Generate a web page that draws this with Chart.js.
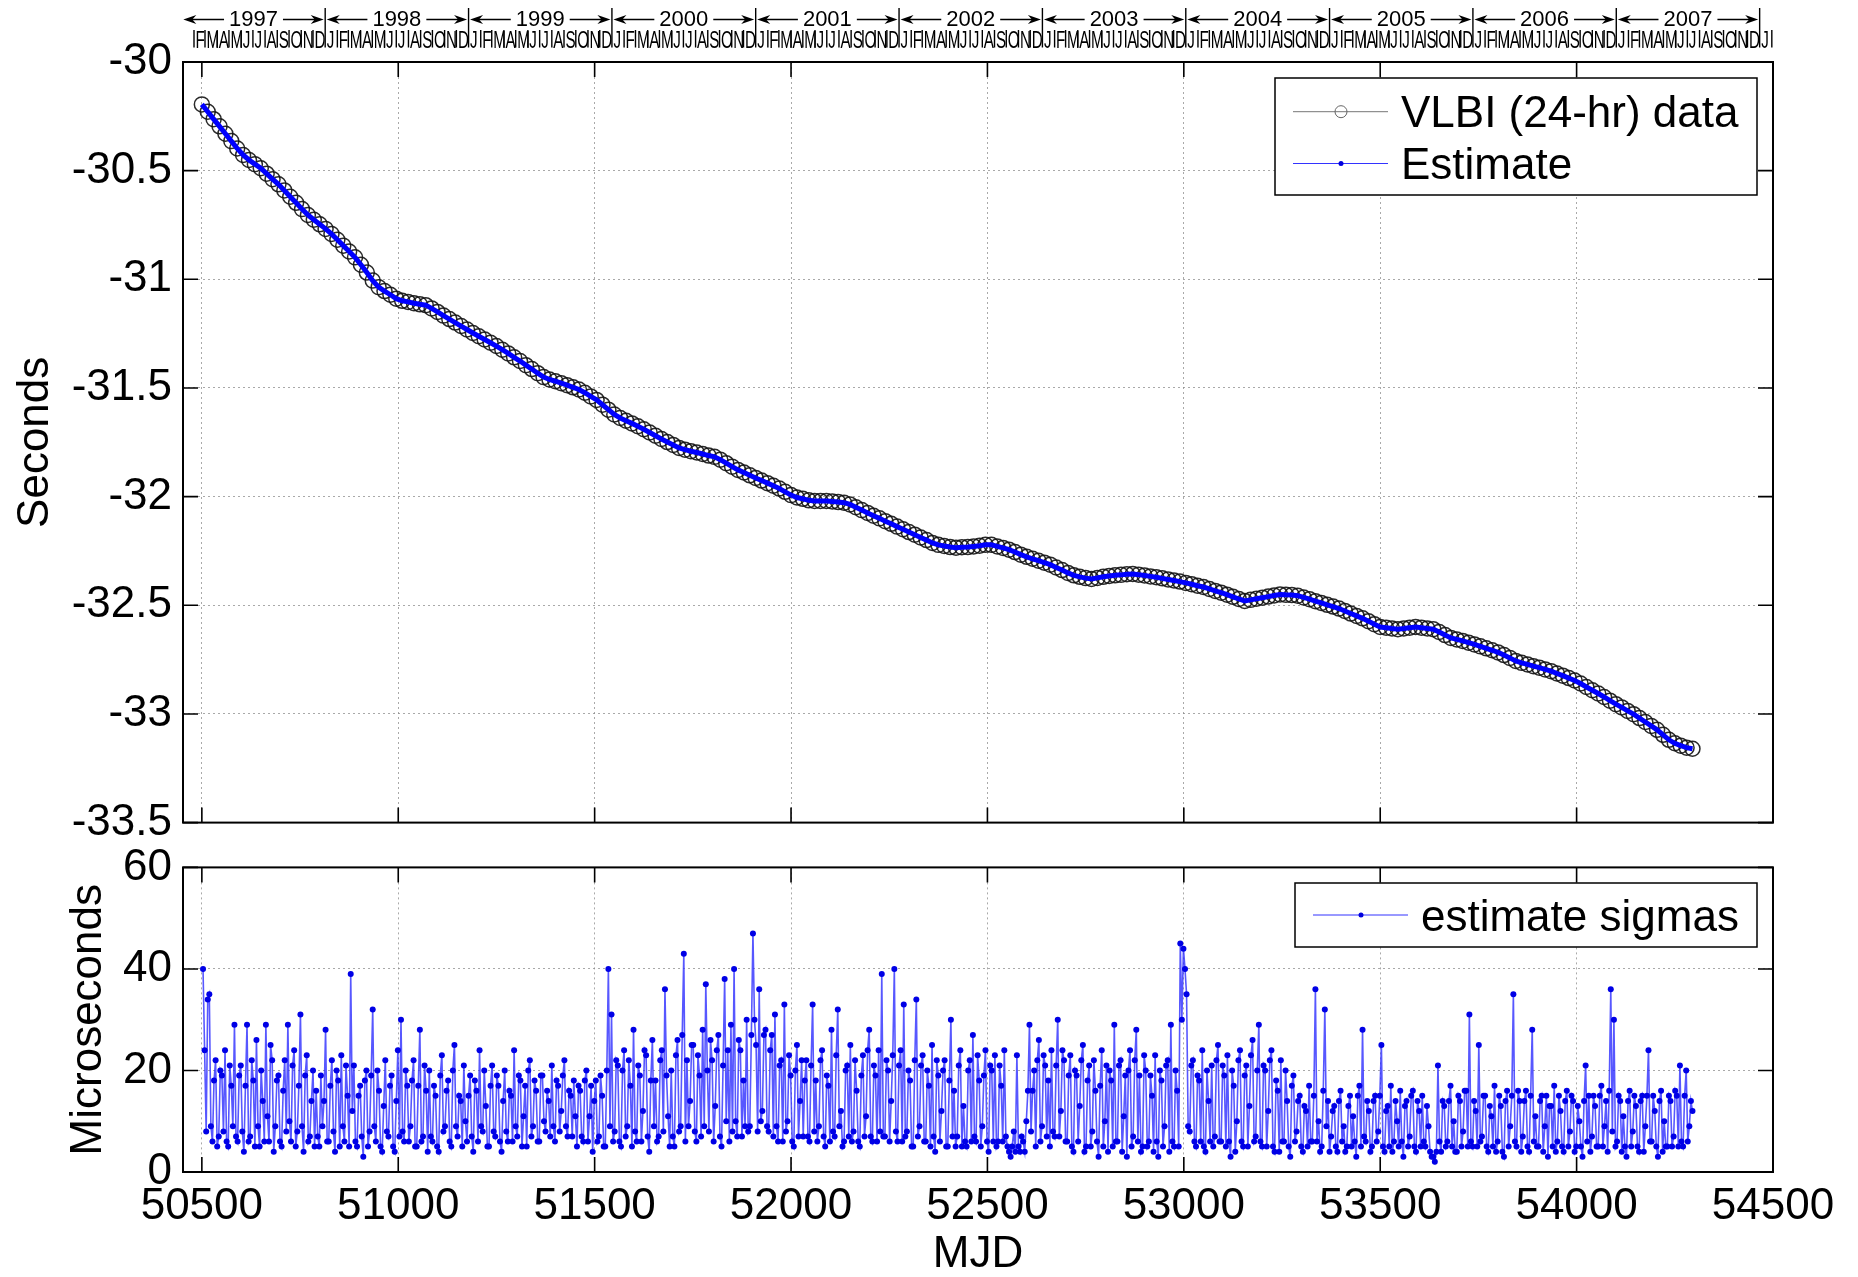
<!DOCTYPE html>
<html>
<head>
<meta charset="utf-8">
<title>UT1-TAI estimate from VLBI</title>
<script src="https://cdn.jsdelivr.net/npm/chart.js@4.4.1/dist/chart.umd.min.js"></script>
<style>
  html, body { margin: 0; padding: 0; background: #fff; }
  canvas { position: absolute; left: 0; display: block; }
</style>
</head>
<body>
<canvas id="ut1" width="1858" height="860" style="top:0"></canvas>
<canvas id="sigma" width="1858" height="447" style="top:830px"></canvas>
<script>
// ---- data -------------------------------------------------------------
// UT1-TAI (seconds), one value every 15 days starting at MJD 50500
const vlbiFirstMjd = 50500;
const vlbiStepDays = 15;
const ut1TaiSec = [
  -30.195, -30.229, -30.263, -30.296, -30.330, -30.364, -30.398, -30.428, -30.451, -30.470,
  -30.489, -30.514, -30.539, -30.563, -30.591, -30.620, -30.648, -30.677, -30.704, -30.726,
  -30.747, -30.768, -30.791, -30.818, -30.845, -30.872, -30.899, -30.933, -30.969, -31.006,
  -31.036, -31.054, -31.071, -31.089, -31.099, -31.104, -31.110, -31.115, -31.119, -31.134,
  -31.150, -31.167, -31.183, -31.199, -31.215, -31.231, -31.247, -31.262, -31.277, -31.292,
  -31.307, -31.324, -31.341, -31.359, -31.376, -31.395, -31.413, -31.432, -31.450, -31.461,
  -31.469, -31.478, -31.487, -31.497, -31.507, -31.522, -31.539, -31.555, -31.577, -31.600,
  -31.622, -31.638, -31.651, -31.663, -31.676, -31.690, -31.705, -31.720, -31.735, -31.749,
  -31.762, -31.776, -31.784, -31.791, -31.797, -31.804, -31.811, -31.817, -31.830, -31.846,
  -31.862, -31.877, -31.889, -31.902, -31.914, -31.926, -31.938, -31.950, -31.963, -31.978,
  -31.993, -32.004, -32.010, -32.017, -32.020, -32.020, -32.020, -32.022, -32.025, -32.028,
  -32.036, -32.049, -32.062, -32.075, -32.088, -32.100, -32.113, -32.125, -32.138, -32.150,
  -32.163, -32.175, -32.188, -32.200, -32.213, -32.222, -32.227, -32.232, -32.235, -32.233,
  -32.232, -32.229, -32.226, -32.222, -32.222, -32.229, -32.236, -32.244, -32.255, -32.267,
  -32.277, -32.286, -32.295, -32.304, -32.313, -32.326, -32.338, -32.351, -32.362, -32.369,
  -32.375, -32.379, -32.374, -32.369, -32.365, -32.362, -32.360, -32.357, -32.356, -32.359,
  -32.363, -32.367, -32.371, -32.376, -32.381, -32.386, -32.391, -32.397, -32.403, -32.410,
  -32.416, -32.425, -32.434, -32.442, -32.451, -32.461, -32.471, -32.480, -32.475, -32.470,
  -32.465, -32.460, -32.455, -32.450, -32.452, -32.453, -32.456, -32.464, -32.472, -32.481,
  -32.489, -32.498, -32.506, -32.515, -32.526, -32.538, -32.549, -32.560, -32.573, -32.587,
  -32.600, -32.603, -32.607, -32.610, -32.607, -32.603, -32.600, -32.603, -32.607, -32.610,
  -32.623, -32.637, -32.650, -32.657, -32.664, -32.672, -32.680, -32.689, -32.698, -32.707,
  -32.717, -32.729, -32.742, -32.756, -32.765, -32.772, -32.780, -32.787, -32.795, -32.803,
  -32.814, -32.824, -32.835, -32.846, -32.860, -32.876, -32.891, -32.906, -32.922, -32.939,
  -32.955, -32.970, -32.986, -33.001, -33.019, -33.037, -33.055, -33.073, -33.096, -33.119,
  -33.135, -33.146, -33.155, -33.160
];

// Formal sigma of the estimate (microseconds), one value every 4 days from MJD 50503
const sigmaFirstMjd = 50503;
const sigmaStepDays = 4;
const sigmaUs = [
  40,24, 8,34, 35,9, 6,18, 22,5, 7,20, 19,8, 24,6, 5,21, 17,9, 29,7, 6,19,
  21,8, 4,17, 29,6, 7,22, 18,5, 26,9, 5,20, 14,6, 29,11, 6,25, 22,4, 9,18,
  19,6, 5,16, 22,8, 29,10, 6,21, 24,5, 8,17, 31,9, 4,19, 23,6, 7,14, 20,5,
  16,7, 5,19, 9,14, 28,6, 6,17, 22,8, 4,20, 18,5, 23,9, 6,21, 15,5, 39,12,
  21,6, 5,15, 17,7, 3,18, 20,5, 8,19, 32,9, 6,20, 16,5, 4,13, 22,8, 7,17,
  19,5, 4,14, 24,7, 30,8, 6,20, 17,6, 9,18, 22,5, 5,17, 28,6, 7,21, 16,4,
  20,7, 6,17, 15,5, 4,19, 23,8, 9,16, 18,6, 5,20, 25,9, 7,15, 14,5, 21,10,
  6,15, 19,7, 4,18, 16,6, 24,9, 8,20, 13,5, 5,17, 21,8, 7,19, 17,6, 4,14,
  20,8, 6,16, 15,6, 24,9, 7,19, 18,5, 11,17, 5,20, 22,7, 9,18, 16,6, 6,19,
  19,10, 8,16, 14,7, 21,9, 6,18, 17,8, 12,19, 22,9, 7,16, 15,7, 18,11, 5,17,
  16,7, 6,18, 20,6, 11,17, 4,14, 18,6, 7,19, 15,5, 5,20, 40,9, 31,6, 8,22,
  21,6, 5,20, 24,7, 9,22, 17,5, 28,8, 6,21, 19,6, 12,24, 23,7, 4,18, 26,9,
  18,6, 7,22, 24,8, 36,19, 11,5, 20,7, 5,23, 26,8, 9,27, 43,6, 22,9, 14,25,
  25,8, 6,23, 19,7, 28,9, 37,20, 8,26, 22,6, 13,24, 27,7, 5,21, 38,10, 24,6,
  29,8, 40,10, 7,26, 24,7, 18,9, 30,8, 9,27, 47,30, 25,8, 36,10, 12,27, 28,9,
  8,24, 27,7, 31,9, 6,21, 22,6, 33,8, 10,23, 19,6, 5,20, 25,7, 14,22, 7,18,
  22,7, 6,21, 33,8, 18,6, 9,22, 24,7, 5,19, 17,6, 28,8, 7,23, 32,9, 12,5,
  6,20, 21,7, 25,6, 8,22, 16,6, 5,19, 23,7, 11,24, 28,7, 6,21, 19,6, 24,8,
  39,7, 7,22, 20,6, 14,23, 40,8, 6,21, 24,6, 33,7, 8,20, 18,5, 5,22, 34,7,
  9,21, 23,6, 6,20, 17,5, 25,7, 4,22, 19,6, 12,20, 22,5, 5,18, 30,7, 16,5,
  7,21, 24,5, 13,6, 5,20, 22,6, 27,7, 6,23, 18,5, 9,19, 24,6, 4,21, 20,6,
  23,5, 6,21, 17,6, 24,7, 5,4, 3,5, 8,4, 23,5, 4,7, 6,4, 10,16, 29,8,
  16,20, 5,22, 26,6, 9,23, 21,7, 18,5, 24,8, 7,21, 30,7, 12,24, 22,6, 6,19,
  23,5, 4,20, 19,6, 13,22, 25,4, 5,18, 21,5, 8,22, 16,6, 3,17, 24,5, 10,21,
  4,20, 18,5, 29,6, 6,21, 22,4, 11,19, 3,20, 24,5, 7,22, 28,6, 19,4, 5,23,
  20,5, 6,19, 15,4, 23,6, 3,20, 18,5, 9,21, 22,4, 29,6, 5,20, 16,5, 45,30,
  44,40, 35,9, 8,21, 22,6, 5,19, 18,6, 24,5, 4,20, 14,6, 21,5, 7,22, 25,6,
  6,21, 19,5, 23,6, 3,20, 17,4, 10,22, 24,6, 5,19, 21,5, 13,23, 26,6, 7,20,
  29,6, 5,21, 20,5, 12,22, 24,5, 4,18, 16,4, 22,6, 6,20, 14,5, 3,17, 19,6,
  8,14, 15,5, 4,13, 12,5, 17,6, 6,15, 36,6, 10,4, 5,16, 32,9, 14,4, 7,12,
  13,5, 4,14, 16,6, 9,4, 5,13, 15,5, 11,6, 3,15, 17,5, 28,7, 6,14, 12,4,
  5,14, 15,6, 8,15, 25,5, 4,12, 13,5, 17,4, 6,14, 10,5, 16,6, 3,13, 14,5,
  7,15, 16,5, 4,14, 12,5, 15,6, 5,13, 9,4, 3,3, 2,4, 21,6, 4,14, 13,5,
  6,14, 17,5, 10,4, 4,15, 14,5, 8,16, 16,5, 31,6, 5,14, 12,5, 25,6, 7,15,
  15,5, 4,13, 11,5, 17,4, 6,15, 13,4, 3,14, 16,5, 9,15, 35,6, 5,16, 14,4,
  7,14, 16,5, 4,15, 28,6, 11,5, 5,14, 15,4, 9,15, 3,13, 13,5, 17,4, 6,15,
  12,5, 4,14, 16,5, 8,15, 14,4, 5,13, 10,5, 3,14, 21,6, 15,4, 7,15, 13,5,
  5,15, 17,5, 9,14, 4,16, 36,8, 30,5, 6,15, 14,4, 11,5, 3,14, 16,5, 8,15,
  13,5, 4,14, 15,4, 9,15, 24,6, 6,15, 12,5, 3,14, 16,4, 10,5, 5,15, 14,5,
  7,16, 15,5, 21,6, 5,15, 20,6, 9,14, 12
];

// axis ticks and calendar labels
const xTicks = [50500, 51000, 51500, 52000, 52500, 53000, 53500, 54000, 54500];
const ut1Ticks = [-30, -30.5, -31, -31.5, -32, -32.5, -33, -33.5];
const sigmaTicks = [0, 20, 40, 60];
const yearLabels = ['1997', '1998', '1999', '2000', '2001', '2002', '2003', '2004', '2005', '2006', '2007'];
const monthLetters = ['J', 'F', 'M', 'A', 'M', 'J', 'J', 'A', 'S', 'O', 'N', 'D'];

// ---- styling ----------------------------------------------------------
const FONT = '"Liberation Sans", Arial, Helvetica, sans-serif';
const X_MIN = 50452, X_MAX = 54500;
const GRID = 'rgba(140,140,140,0.75)';
const SIGMA_TOP = 830;            // page offset of the lower canvas

const mjdOf = (y, m) => Date.UTC(y, m, 1) / 86400000 + 40587;

const ut1Points = ut1TaiSec.map((v, i) => ({ x: vlbiFirstMjd + i * vlbiStepDays, y: v }));
const sigmaPoints = sigmaUs.map((v, i) => ({ x: sigmaFirstMjd + i * sigmaStepDays, y: v }));

// inward tick marks on all four sides plus the axes box
const boxTicks = {
  id: 'boxTicks',
  afterDatasetsDraw(chart, args, opts) {
    const { ctx, chartArea: a } = chart;
    const xs = chart.scales.x, ys = chart.scales.y;
    const len = opts.len || 15;
    ctx.save();
    ctx.strokeStyle = '#000';
    ctx.lineWidth = 1.6;
    ctx.beginPath();
    xs.ticks.forEach(t => {
      const p = xs.getPixelForValue(t.value);
      ctx.moveTo(p, a.bottom); ctx.lineTo(p, a.bottom - len);
      ctx.moveTo(p, a.top); ctx.lineTo(p, a.top + len);
    });
    ys.ticks.forEach(t => {
      const p = ys.getPixelForValue(t.value);
      ctx.moveTo(a.left, p); ctx.lineTo(a.left + len, p);
      ctx.moveTo(a.right, p); ctx.lineTo(a.right - len, p);
    });
    ctx.stroke();
    ctx.lineWidth = 2;
    ctx.strokeRect(a.left, a.top, a.right - a.left, a.bottom - a.top);
    ctx.restore();
  }
};

function drawLegend(ctx, box, rows) {
  ctx.save();
  ctx.fillStyle = '#fff';
  ctx.fillRect(box.x, box.y, box.w, box.h);
  ctx.strokeStyle = '#000';
  ctx.lineWidth = 1.5;
  ctx.strokeRect(box.x, box.y, box.w, box.h);
  rows.forEach(r => {
    ctx.strokeStyle = r.color;
    ctx.lineWidth = 1;
    ctx.beginPath();
    ctx.moveTo(box.x + 18, r.y); ctx.lineTo(box.x + 113, r.y);
    ctx.stroke();
    ctx.beginPath();
    if (r.marker === 'circle') {
      ctx.strokeStyle = '#666';
      ctx.arc(box.x + 66, r.y, 6, 0, Math.PI * 2);
      ctx.stroke();
    } else {
      ctx.fillStyle = '#0000dd';
      ctx.arc(box.x + 66, r.y, 2.5, 0, Math.PI * 2);
      ctx.fill();
    }
    ctx.fillStyle = '#000';
    ctx.font = '44px ' + FONT;
    ctx.textAlign = 'left';
    ctx.textBaseline = 'alphabetic';
    ctx.fillText(r.text, box.x + 126, r.y + 15.5);
  });
  ctx.restore();
}

function arrow(ctx, from, tip, y) {
  const dir = Math.sign(tip - from);
  ctx.beginPath();
  ctx.moveTo(from, y); ctx.lineTo(tip - dir * 8, y);
  ctx.stroke();
  ctx.beginPath();
  ctx.moveTo(tip, y);
  ctx.lineTo(tip - dir * 13, y - 4.5);
  ctx.lineTo(tip - dir * 9, y);
  ctx.lineTo(tip - dir * 13, y + 4.5);
  ctx.closePath();
  ctx.fill();
}

// calendar strip (years and month initials) above the upper panel
const calendarAxis = {
  id: 'calendarAxis',
  afterDraw(chart) {
    const { ctx } = chart;
    const xs = chart.scales.x;
    const px = d => xs.getPixelForValue(d);
    const years = yearLabels.map(Number);
    const first = years[0], last = years[years.length - 1];
    ctx.save();
    ctx.strokeStyle = '#000';
    ctx.fillStyle = '#000';
    ctx.lineWidth = 1.4;
    ctx.font = '23px ' + FONT;
    ctx.textAlign = 'left';
    ctx.textBaseline = 'alphabetic';
    for (let y = first; y <= last + 1; y++) {
      for (let m = 0; m < 12; m++) {
        if (y === first && m === 0) continue;
        if (y === last + 1 && m > 1) break;
        const x0 = px(mjdOf(y, m));
        ctx.beginPath();
        ctx.moveTo(x0, m === 0 ? 8 : 30);
        ctx.lineTo(x0, 47.5);
        ctx.stroke();
        if (y === last + 1 && m === 1) break;
        ctx.save();
        ctx.translate(x0 + 1.5, 47.5);
        ctx.scale(0.66, 1);
        ctx.fillText(monthLetters[m], 0, 0);
        ctx.restore();
      }
    }
    ctx.font = '22px ' + FONT;
    ctx.textAlign = 'center';
    ctx.textBaseline = 'middle';
    ctx.lineWidth = 1.6;
    years.forEach((y, i) => {
      const xa = px(mjdOf(y, 0)), xb = px(mjdOf(y + 1, 0));
      const xc = (xa + xb) / 2;
      const w = ctx.measureText(yearLabels[i]).width;
      ctx.fillText(yearLabels[i], xc, 19.5);
      arrow(ctx, xc - w / 2 - 5, xa + 1.5, 19.5);
      arrow(ctx, xc + w / 2 + 5, xb - 1.5, 19.5);
    });
    ctx.restore();
  }
};

const ut1Decor = {
  id: 'ut1Decor',
  afterDraw(chart) {
    const { ctx, chartArea: a } = chart;
    const ds = chart.data.datasets;
    drawLegend(ctx, { x: 1275, y: 78, w: 482, h: 117 }, [
      { text: ds[0].label, y: 111.7, color: '#777', marker: 'circle' },
      { text: ds[1].label, y: 163.5, color: '#3333ff', marker: 'dot' }
    ]);
    ctx.save();
    ctx.fillStyle = '#000';
    ctx.font = '44px ' + FONT;
    ctx.textAlign = 'center';
    ctx.textBaseline = 'alphabetic';
    ctx.translate(48, (a.top + a.bottom) / 2);
    ctx.rotate(-Math.PI / 2);
    ctx.fillText('Seconds', 0, 0);
    ctx.restore();
  }
};

const sigmaDecor = {
  id: 'sigmaDecor',
  afterDraw(chart) {
    const { ctx, chartArea: a } = chart;
    drawLegend(ctx, { x: 1295, y: 883 - SIGMA_TOP, w: 462, h: 64 }, [
      { text: chart.data.datasets[0].label, y: 915 - SIGMA_TOP, color: '#3333ff', marker: 'dot' }
    ]);
    ctx.save();
    ctx.fillStyle = '#000';
    ctx.font = '44px ' + FONT;
    ctx.textAlign = 'center';
    ctx.textBaseline = 'alphabetic';
    ctx.fillText('MJD', (a.left + a.right) / 2, 1267 - SIGMA_TOP);
    ctx.translate(101, (a.top + a.bottom) / 2);
    ctx.rotate(-Math.PI / 2);
    ctx.fillText('Microseconds', 0, 0);
    ctx.restore();
  }
};

Chart.defaults.font.family = FONT;
Chart.defaults.color = '#000';

function xScale(showLabels) {
  return {
    type: 'linear',
    min: X_MIN,
    max: X_MAX,
    afterBuildTicks: s => { s.ticks = xTicks.map(v => ({ value: v })); },
    afterFit: showLabels ? (s => { s.height = 105; }) : (s => { s.height = 0; }),
    ticks: { display: showLabels, callback: v => String(v), font: { size: 44 }, color: '#000', padding: 8, maxRotation: 0, autoSkip: false },
    grid: { color: GRID, lineWidth: 1, drawTicks: false },
    border: { display: false, dash: [2, 3] }
  };
}

function yScale(min, max, ticks) {
  return {
    min: min,
    max: max,
    afterBuildTicks: s => { s.ticks = ticks.map(v => ({ value: v })); },
    afterFit: s => { s.width = 183; },
    ticks: { callback: v => String(v), font: { size: 44 }, color: '#000', padding: 11 },
    grid: { color: GRID, lineWidth: 1, drawTicks: false },
    border: { display: false, dash: [2, 3] }
  };
}

new Chart(document.getElementById('ut1'), {
  type: 'line',
  data: {
    datasets: [
      {
        label: 'VLBI (24-hr) data',
        data: ut1Points,
        order: 2,
        borderColor: 'rgba(50,50,50,0.85)',
        borderWidth: 1,
        pointRadius: 7.5,
        pointBorderWidth: 1.5,
        pointBorderColor: 'rgba(20,20,20,0.9)',
        pointBackgroundColor: 'rgba(0,0,0,0)',
        tension: 0
      },
      {
        label: 'Estimate',
        data: ut1Points,
        order: 1,
        borderColor: '#0000ff',
        borderWidth: 5,
        pointRadius: 0,
        tension: 0
      }
    ]
  },
  options: {
    responsive: false,
    animation: false,
    events: [],
    layout: { padding: { top: 62, right: 85, bottom: 35, left: 0 } },
    plugins: { legend: { display: false }, tooltip: { enabled: false }, boxTicks: { len: 15 } },
    scales: { x: xScale(false), y: yScale(-33.5, -30, ut1Ticks) }
  },
  plugins: [boxTicks, calendarAxis, ut1Decor]
});

new Chart(document.getElementById('sigma'), {
  type: 'line',
  data: {
    datasets: [
      {
        label: 'estimate sigmas',
        data: sigmaPoints,
        borderColor: 'rgba(40,40,255,0.78)',
        borderWidth: 1.6,
        pointRadius: 3,
        pointBorderWidth: 0,
        pointBackgroundColor: '#0000e6',
        tension: 0
      }
    ]
  },
  options: {
    responsive: false,
    animation: false,
    events: [],
    layout: { padding: { top: 37, right: 85, bottom: 0, left: 0 } },
    plugins: { legend: { display: false }, tooltip: { enabled: false }, boxTicks: { len: 15 } },
    scales: { x: xScale(true), y: yScale(0, 60, sigmaTicks) }
  },
  plugins: [boxTicks, sigmaDecor]
});
</script>
</body>
</html>
